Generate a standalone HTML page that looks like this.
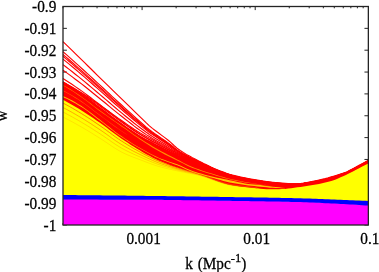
<!DOCTYPE html>
<html><head><meta charset="utf-8"><title>w vs k</title>
<style>
html,body{margin:0;padding:0;background:#fff;}
svg{display:block;position:absolute;left:0;top:0;}
text{font-family:"Liberation Serif",serif;font-size:15.3px;fill:#000;stroke:#000;stroke-width:0.25px;}
</style></head>
<body>
<svg width="379" height="272" viewBox="0 0 379 272">
<rect width="379" height="272" fill="#fff"/>
<path d="M63.0,6.50h3.9 M368.35,6.50h-3.9 M63.0,28.35h3.9 M368.35,28.35h-3.9 M63.0,50.20h3.9 M368.35,50.20h-3.9 M63.0,72.05h3.9 M368.35,72.05h-3.9 M63.0,93.90h3.9 M368.35,93.90h-3.9 M63.0,115.75h3.9 M368.35,115.75h-3.9 M63.0,137.60h3.9 M368.35,137.60h-3.9 M63.0,159.45h3.9 M368.35,159.45h-3.9 M63.0,181.30h3.9 M368.35,181.30h-3.9 M63.0,203.15h3.9 M368.35,203.15h-3.9 M63.0,225.00h3.9 M368.35,225.00h-3.9 M63.00,6.5v1.8 M63.00,225.0v-1.8 M82.92,6.5v1.8 M82.92,225.0v-1.8 M97.06,6.5v1.8 M97.06,225.0v-1.8 M108.02,6.5v1.8 M108.02,225.0v-1.8 M116.98,6.5v1.8 M116.98,225.0v-1.8 M124.55,6.5v1.8 M124.55,225.0v-1.8 M131.11,6.5v1.8 M131.11,225.0v-1.8 M136.90,6.5v1.8 M136.90,225.0v-1.8 M142.08,6.5v3.6 M142.08,225.0v-3.6 M176.14,6.5v1.8 M176.14,225.0v-1.8 M196.06,6.5v1.8 M196.06,225.0v-1.8 M210.19,6.5v1.8 M210.19,225.0v-1.8 M221.16,6.5v1.8 M221.16,225.0v-1.8 M230.12,6.5v1.8 M230.12,225.0v-1.8 M237.69,6.5v1.8 M237.69,225.0v-1.8 M244.25,6.5v1.8 M244.25,225.0v-1.8 M250.04,6.5v1.8 M250.04,225.0v-1.8 M255.21,6.5v3.6 M255.21,225.0v-3.6 M289.27,6.5v1.8 M289.27,225.0v-1.8 M309.19,6.5v1.8 M309.19,225.0v-1.8 M323.33,6.5v1.8 M323.33,225.0v-1.8 M334.29,6.5v1.8 M334.29,225.0v-1.8 M343.25,6.5v1.8 M343.25,225.0v-1.8 M350.83,6.5v1.8 M350.83,225.0v-1.8 M357.39,6.5v1.8 M357.39,225.0v-1.8 M363.17,6.5v1.8 M363.17,225.0v-1.8" stroke="#242424" stroke-width="1" fill="none"/>
<g>
<polygon fill="#ff00ff" fill-opacity="1" points="63.0,199.10 66.1,199.10 69.2,199.10 72.3,199.10 75.3,199.10 78.4,199.10 81.5,199.11 84.6,199.11 87.7,199.11 90.8,199.11 93.8,199.12 96.9,199.12 100.0,199.13 103.1,199.13 106.2,199.13 109.3,199.14 112.3,199.14 115.4,199.15 118.5,199.15 121.6,199.16 124.7,199.17 127.8,199.17 130.9,199.18 133.9,199.19 137.0,199.19 140.1,199.20 143.2,199.21 146.3,199.22 149.4,199.24 152.4,199.26 155.5,199.29 158.6,199.31 161.7,199.35 164.8,199.38 167.9,199.41 171.0,199.45 174.0,199.49 177.1,199.54 180.2,199.58 183.3,199.63 186.4,199.67 189.5,199.72 192.5,199.77 195.6,199.82 198.7,199.87 201.8,199.92 204.9,199.97 208.0,200.02 211.0,200.06 214.1,200.11 217.2,200.16 220.3,200.20 223.4,200.25 226.5,200.29 229.6,200.34 232.6,200.38 235.7,200.42 238.8,200.47 241.9,200.51 245.0,200.55 248.1,200.60 251.1,200.64 254.2,200.69 257.3,200.74 260.4,200.79 263.5,200.84 266.6,200.89 269.7,200.94 272.7,201.00 275.8,201.06 278.9,201.12 282.0,201.18 285.1,201.24 288.2,201.31 291.2,201.38 294.3,201.46 297.4,201.53 300.5,201.61 303.6,201.70 306.7,201.81 309.7,201.92 312.8,202.05 315.9,202.18 319.0,202.33 322.1,202.47 325.2,202.63 328.3,202.79 331.3,202.95 334.4,203.11 337.5,203.27 340.6,203.43 343.7,203.59 346.5,203.75 346.8,203.77 349.8,203.94 352.9,204.12 356.0,204.31 359.1,204.50 362.2,204.70 365.3,204.89 368.4,205.10 368.4,225.00 365.3,225.00 362.2,225.00 359.1,225.00 356.0,225.00 352.9,225.00 349.8,225.00 346.8,225.00 346.5,225.00 343.7,225.00 340.6,225.00 337.5,225.00 334.4,225.00 331.3,225.00 328.3,225.00 325.2,225.00 322.1,225.00 319.0,225.00 315.9,225.00 312.8,225.00 309.7,225.00 306.7,225.00 303.6,225.00 300.5,225.00 297.4,225.00 294.3,225.00 291.2,225.00 288.2,225.00 285.1,225.00 282.0,225.00 278.9,225.00 275.8,225.00 272.7,225.00 269.7,225.00 266.6,225.00 263.5,225.00 260.4,225.00 257.3,225.00 254.2,225.00 251.1,225.00 248.1,225.00 245.0,225.00 241.9,225.00 238.8,225.00 235.7,225.00 232.6,225.00 229.6,225.00 226.5,225.00 223.4,225.00 220.3,225.00 217.2,225.00 214.1,225.00 211.0,225.00 208.0,225.00 204.9,225.00 201.8,225.00 198.7,225.00 195.6,225.00 192.5,225.00 189.5,225.00 186.4,225.00 183.3,225.00 180.2,225.00 177.1,225.00 174.0,225.00 171.0,225.00 167.9,225.00 164.8,225.00 161.7,225.00 158.6,225.00 155.5,225.00 152.4,225.00 149.4,225.00 146.3,225.00 143.2,225.00 140.1,225.00 137.0,225.00 133.9,225.00 130.9,225.00 127.8,225.00 124.7,225.00 121.6,225.00 118.5,225.00 115.4,225.00 112.3,225.00 109.3,225.00 106.2,225.00 103.1,225.00 100.0,225.00 96.9,225.00 93.8,225.00 90.8,225.00 87.7,225.00 84.6,225.00 81.5,225.00 78.4,225.00 75.3,225.00 72.3,225.00 69.2,225.00 66.1,225.00 63.0,225.00"/>
<polygon fill="#ffff00" fill-opacity="1" points="63.0,98.00 66.1,99.68 69.2,101.40 72.3,103.16 75.3,104.98 78.4,106.83 81.5,108.74 84.6,110.69 87.7,112.70 90.8,114.75 93.8,116.84 96.9,118.96 100.0,121.11 103.1,123.31 106.2,125.59 109.3,127.92 112.3,130.24 115.4,132.54 118.5,134.76 121.6,136.90 124.7,139.01 127.8,141.09 130.9,143.13 133.9,145.12 137.0,147.03 140.1,148.86 143.2,150.64 146.3,152.38 149.4,154.07 152.4,155.69 155.5,157.23 158.6,158.68 161.7,160.03 164.8,161.30 167.9,162.51 171.0,163.66 174.0,164.76 177.1,165.83 180.2,166.87 183.3,167.86 186.4,168.79 189.5,169.69 192.5,170.57 195.6,171.47 198.7,172.40 201.8,173.39 204.9,174.48 208.0,175.64 211.0,176.84 214.1,178.04 217.2,179.22 220.3,180.34 223.4,181.36 226.5,182.27 229.6,183.01 232.6,183.59 235.7,184.08 238.8,184.52 241.9,184.91 245.0,185.27 248.1,185.60 251.1,185.92 254.2,186.27 257.3,186.62 260.4,186.95 263.5,187.22 266.6,187.42 269.7,187.50 272.7,187.49 275.8,187.46 278.9,187.40 282.0,187.33 285.1,187.19 288.2,186.85 291.2,186.42 294.3,186.00 297.4,185.61 300.5,185.20 303.6,184.77 306.7,184.32 309.7,183.83 312.8,183.31 315.9,182.75 319.0,182.15 322.1,181.50 325.2,180.80 328.3,180.01 331.3,179.14 334.4,178.16 337.5,176.97 340.6,175.62 343.7,174.22 346.5,173.00 346.8,172.87 349.8,171.26 352.9,169.65 356.0,168.05 359.1,166.44 362.2,164.84 365.3,163.23 368.4,161.63 368.4,201.50 365.3,201.36 362.2,201.23 359.1,201.09 356.0,200.96 352.9,200.83 349.8,200.70 346.8,200.57 346.5,200.56 343.7,200.45 340.6,200.32 337.5,200.20 334.4,200.07 331.3,199.94 328.3,199.81 325.2,199.69 322.1,199.56 319.0,199.44 315.9,199.31 312.8,199.20 309.7,199.09 306.7,198.99 303.6,198.90 300.5,198.81 297.4,198.74 294.3,198.66 291.2,198.59 288.2,198.53 285.1,198.46 282.0,198.40 278.9,198.34 275.8,198.28 272.7,198.22 269.7,198.17 266.6,198.11 263.5,198.06 260.4,198.01 257.3,197.96 254.2,197.91 251.1,197.87 248.1,197.82 245.0,197.77 241.9,197.73 238.8,197.68 235.7,197.64 232.6,197.59 229.6,197.54 226.5,197.50 223.4,197.45 220.3,197.40 217.2,197.36 214.1,197.31 211.0,197.26 208.0,197.22 204.9,197.17 201.8,197.13 198.7,197.08 195.6,197.04 192.5,196.99 189.5,196.95 186.4,196.90 183.3,196.86 180.2,196.82 177.1,196.77 174.0,196.73 171.0,196.69 167.9,196.65 164.8,196.61 161.7,196.57 158.6,196.53 155.5,196.49 152.4,196.45 149.4,196.41 146.3,196.38 143.2,196.34 140.1,196.30 137.0,196.26 133.9,196.23 130.9,196.19 127.8,196.16 124.7,196.12 121.6,196.09 118.5,196.05 115.4,196.02 112.3,195.99 109.3,195.95 106.2,195.92 103.1,195.89 100.0,195.85 96.9,195.82 93.8,195.79 90.8,195.76 87.7,195.73 84.6,195.70 81.5,195.67 78.4,195.64 75.3,195.61 72.3,195.58 69.2,195.55 66.1,195.53 63.0,195.50"/>
<polygon fill="#0000ff" fill-opacity="1" points="63.0,195.00 66.1,195.03 69.2,195.05 72.3,195.08 75.3,195.11 78.4,195.14 81.5,195.17 84.6,195.20 87.7,195.23 90.8,195.26 93.8,195.29 96.9,195.32 100.0,195.35 103.1,195.39 106.2,195.42 109.3,195.45 112.3,195.49 115.4,195.52 118.5,195.55 121.6,195.59 124.7,195.62 127.8,195.66 130.9,195.69 133.9,195.73 137.0,195.76 140.1,195.80 143.2,195.84 146.3,195.88 149.4,195.91 152.4,195.95 155.5,195.99 158.6,196.03 161.7,196.07 164.8,196.11 167.9,196.15 171.0,196.19 174.0,196.23 177.1,196.27 180.2,196.32 183.3,196.36 186.4,196.40 189.5,196.45 192.5,196.49 195.6,196.54 198.7,196.58 201.8,196.63 204.9,196.67 208.0,196.72 211.0,196.76 214.1,196.81 217.2,196.86 220.3,196.90 223.4,196.95 226.5,197.00 229.6,197.04 232.6,197.09 235.7,197.14 238.8,197.18 241.9,197.23 245.0,197.27 248.1,197.32 251.1,197.37 254.2,197.41 257.3,197.46 260.4,197.51 263.5,197.56 266.6,197.61 269.7,197.67 272.7,197.72 275.8,197.78 278.9,197.84 282.0,197.90 285.1,197.96 288.2,198.03 291.2,198.09 294.3,198.16 297.4,198.24 300.5,198.31 303.6,198.40 306.7,198.49 309.7,198.59 312.8,198.70 315.9,198.81 319.0,198.94 322.1,199.06 325.2,199.19 328.3,199.31 331.3,199.44 334.4,199.57 337.5,199.70 340.6,199.82 343.7,199.95 346.5,200.06 346.8,200.07 349.8,200.20 352.9,200.33 356.0,200.46 359.1,200.59 362.2,200.73 365.3,200.86 368.4,201.00 368.4,205.60 365.3,205.39 362.2,205.20 359.1,205.00 356.0,204.81 352.9,204.62 349.8,204.44 346.8,204.27 346.5,204.25 343.7,204.09 340.6,203.93 337.5,203.77 334.4,203.61 331.3,203.45 328.3,203.29 325.2,203.13 322.1,202.97 319.0,202.83 315.9,202.68 312.8,202.55 309.7,202.42 306.7,202.31 303.6,202.20 300.5,202.11 297.4,202.03 294.3,201.96 291.2,201.88 288.2,201.81 285.1,201.74 282.0,201.68 278.9,201.62 275.8,201.56 272.7,201.50 269.7,201.44 266.6,201.39 263.5,201.34 260.4,201.29 257.3,201.24 254.2,201.19 251.1,201.14 248.1,201.10 245.0,201.05 241.9,201.01 238.8,200.97 235.7,200.92 232.6,200.88 229.6,200.84 226.5,200.79 223.4,200.75 220.3,200.70 217.2,200.66 214.1,200.61 211.0,200.56 208.0,200.52 204.9,200.47 201.8,200.42 198.7,200.37 195.6,200.32 192.5,200.27 189.5,200.22 186.4,200.17 183.3,200.13 180.2,200.08 177.1,200.04 174.0,199.99 171.0,199.95 167.9,199.91 164.8,199.88 161.7,199.85 158.6,199.81 155.5,199.79 152.4,199.76 149.4,199.74 146.3,199.72 143.2,199.71 140.1,199.70 137.0,199.69 133.9,199.69 130.9,199.68 127.8,199.67 124.7,199.67 121.6,199.66 118.5,199.65 115.4,199.65 112.3,199.64 109.3,199.64 106.2,199.63 103.1,199.63 100.0,199.63 96.9,199.62 93.8,199.62 90.8,199.61 87.7,199.61 84.6,199.61 81.5,199.61 78.4,199.60 75.3,199.60 72.3,199.60 69.2,199.60 66.1,199.60 63.0,199.60"/>
<polygon fill="#ff0000" fill-opacity="1" points="63.0,81.60 66.1,83.46 69.2,85.36 72.3,87.31 75.3,89.30 78.4,91.34 81.5,93.43 84.6,95.58 87.7,97.80 90.8,100.05 93.8,102.34 96.9,104.63 100.0,106.91 103.1,109.21 106.2,111.55 109.3,113.91 112.3,116.25 115.4,118.57 118.5,120.84 121.6,123.04 124.7,125.23 127.8,127.40 130.9,129.54 133.9,131.60 137.0,133.59 140.1,135.46 143.2,137.23 146.3,138.91 149.4,140.52 152.4,142.09 155.5,143.64 158.6,145.19 161.7,146.78 164.8,148.38 167.9,149.99 171.0,151.58 174.0,153.12 177.1,154.60 180.2,155.99 183.3,157.28 186.4,158.49 189.5,159.66 192.5,160.80 195.6,161.94 198.7,163.10 201.8,164.32 204.9,165.61 208.0,166.95 211.0,168.31 214.1,169.68 217.2,171.02 220.3,172.30 223.4,173.51 226.5,174.62 229.6,175.59 232.6,176.43 235.7,177.19 238.8,177.90 241.9,178.54 245.0,179.13 248.1,179.68 251.1,180.18 254.2,180.65 257.3,181.09 260.4,181.50 263.5,181.88 266.6,182.23 269.7,182.56 272.7,182.90 275.8,183.25 278.9,183.59 282.0,183.90 285.1,184.14 288.2,184.28 291.2,184.29 294.3,184.20 297.4,184.02 300.5,183.76 303.6,183.44 306.7,183.05 309.7,182.62 312.8,182.16 315.9,181.67 319.0,181.16 322.1,180.62 325.2,179.95 328.3,179.15 331.3,178.24 334.4,177.23 337.5,176.15 340.6,175.01 343.7,173.82 346.5,172.70 346.8,172.60 349.8,171.28 352.9,169.84 356.0,168.27 359.1,166.59 362.2,164.81 365.3,162.96 368.4,161.03 368.4,163.38 365.3,164.98 362.2,166.59 359.1,168.19 356.0,169.80 352.9,171.40 349.8,173.01 346.8,174.62 346.5,174.75 343.7,175.97 340.6,177.37 337.5,178.72 334.4,179.91 331.3,180.89 328.3,181.76 325.2,182.55 322.1,183.25 319.0,183.90 315.9,184.50 312.8,185.06 309.7,185.58 306.7,186.07 303.6,186.52 300.5,186.95 297.4,187.36 294.3,187.75 291.2,188.17 288.2,188.60 285.1,188.94 282.0,189.08 278.9,189.15 275.8,189.21 272.7,189.24 269.7,189.25 266.6,189.17 263.5,188.97 260.4,188.70 257.3,188.37 254.2,188.02 251.1,187.67 248.1,187.35 245.0,187.02 241.9,186.66 238.8,186.27 235.7,185.83 232.6,185.34 229.6,184.76 226.5,184.02 223.4,183.11 220.3,182.09 217.2,180.97 214.1,179.79 211.0,178.59 208.0,177.39 204.9,176.23 201.8,175.14 198.7,174.15 195.6,173.22 192.5,172.32 189.5,171.44 186.4,170.54 183.3,169.61 180.2,168.62 177.1,167.58 174.0,166.51 171.0,165.41 167.9,164.26 164.8,163.05 161.7,161.78 158.6,160.43 155.5,158.98 152.4,157.44 149.4,155.82 146.3,154.13 143.2,152.39 140.1,150.61 137.0,148.78 133.9,146.87 130.9,144.88 127.8,142.84 124.7,140.76 121.6,138.65 118.5,136.51 115.4,134.29 112.3,131.99 109.3,129.67 106.2,127.34 103.1,125.06 100.0,122.86 96.9,120.71 93.8,118.59 90.8,116.50 87.7,114.45 84.6,112.44 81.5,110.49 78.4,108.58 75.3,106.73 72.3,104.91 69.2,103.15 66.1,101.43 63.0,99.75"/>
<path d="M63.0,41.60 L66.1,44.61 L69.2,47.62 L72.3,50.63 L75.3,53.64 L78.4,56.66 L81.5,59.67 L84.6,62.70 L87.7,65.72 L90.8,68.75 L93.8,71.77 L96.9,74.79 L100.0,77.81 L103.1,80.83 L106.2,83.84 L109.3,86.85 L112.3,89.85 L115.4,92.86 L118.5,95.86 L121.6,98.86 L124.7,101.85 L127.8,104.85 L130.9,107.84 L133.9,110.82 L137.0,113.81 L140.1,116.81 L143.2,119.87 L146.3,122.95 L149.4,125.84 L152.4,128.41 L155.5,130.78 L158.6,133.06 L161.7,135.36 L164.8,137.61 L167.9,140.00 L171.0,142.69 L174.0,145.50 L177.1,148.20 L180.2,150.54 L183.3,152.55 L186.4,154.39 L189.5,156.10 L192.5,157.74 L195.6,159.33 L198.7,160.92 L201.8,162.55 L204.9,164.14 L208.0,165.64 L211.0,167.06 L214.1,168.42 L217.2,169.70 L220.3,170.92 L223.4,172.08 L226.5,173.18 L229.6,174.18 L232.6,175.05 L235.7,175.85 L238.8,176.59 L241.9,177.28 L245.0,177.93 L248.1,178.54 L251.1,179.11 L254.2,179.66 L257.3,180.18 L260.4,180.68 L263.5,181.14 L266.6,181.57 L269.7,181.96 L272.7,182.32 L275.8,182.64 L278.9,182.92 L282.0,183.15 L285.1,183.38 L288.2,183.59 L291.2,183.74 L294.3,183.80 L297.4,183.70 L300.5,183.48 L303.6,183.15 L306.7,182.59 L309.7,182.01 L312.8,181.42 L315.9,180.79 L319.0,180.13 L322.1,179.42 L325.2,178.65 L328.3,177.80 L331.3,176.90 L334.4,175.97 L337.5,175.01 L340.6,174.02 L343.7,173.01 L346.5,172.10 L346.8,171.98 L349.8,170.30 L352.9,168.64 L356.0,166.97 L359.1,165.31 L362.2,163.65 L365.3,161.99 L368.4,160.33" stroke="#ff0000" stroke-width="1.15" fill="none"/>
<path d="M63.0,51.70 L66.1,54.42 L69.2,57.15 L72.3,59.90 L75.3,62.66 L78.4,65.43 L81.5,68.22 L84.6,71.03 L87.7,73.85 L90.8,76.68 L93.8,79.52 L96.9,82.36 L100.0,85.20 L103.1,88.04 L106.2,90.88 L109.3,93.73 L112.3,96.57 L115.4,99.40 L118.5,102.22 L121.6,105.02 L124.7,107.82 L127.8,110.61 L130.9,113.38 L133.9,116.14 L137.0,118.88 L140.1,121.60 L143.2,124.34 L146.3,127.07 L149.4,129.64 L152.4,131.96 L155.5,134.13 L158.6,136.23 L161.7,138.35 L164.8,140.44 L167.9,142.64 L171.0,145.05 L174.0,147.55 L177.1,149.94 L180.2,152.05 L183.3,153.87 L186.4,155.56 L189.5,157.14 L192.5,158.65 L195.6,160.13 L198.7,161.61 L201.8,163.14 L204.9,164.65 L208.0,166.12 L211.0,167.52 L214.1,168.88 L217.2,170.18 L220.3,171.41 L223.4,172.58 L226.5,173.69 L229.6,174.68 L232.6,175.54 L235.7,176.33 L238.8,177.06 L241.9,177.74 L245.0,178.38 L248.1,178.97 L251.1,179.53 L254.2,180.05 L257.3,180.56 L260.4,181.03 L263.5,181.47 L266.6,181.88 L269.7,182.26 L272.7,182.61 L275.8,182.94 L278.9,183.23 L282.0,183.49 L285.1,183.72 L288.2,183.91 L291.2,184.03 L294.3,184.05 L297.4,183.93 L300.5,183.70 L303.6,183.37 L306.7,182.86 L309.7,182.31 L312.8,181.75 L315.9,181.16 L319.0,180.53 L322.1,179.87 L325.2,179.12 L328.3,178.28 L331.3,177.38 L334.4,176.44 L337.5,175.44 L340.6,174.41 L343.7,173.36 L346.5,172.40 L346.8,172.28 L349.8,170.69 L352.9,169.08 L356.0,167.44 L359.1,165.78 L362.2,164.09 L365.3,162.38 L368.4,160.65" stroke="#ff0000" stroke-width="1.15" fill="none"/>
<path d="M63.0,54.50 L66.1,57.14 L69.2,59.80 L72.3,62.47 L75.3,65.16 L78.4,67.87 L81.5,70.59 L84.6,73.34 L87.7,76.10 L90.8,78.88 L93.8,81.67 L96.9,84.46 L100.0,87.25 L103.1,90.03 L106.2,92.83 L109.3,95.63 L112.3,98.43 L115.4,101.22 L118.5,103.99 L121.6,106.73 L124.7,109.47 L127.8,112.20 L130.9,114.92 L133.9,117.62 L137.0,120.29 L140.1,122.92 L143.2,125.58 L146.3,128.21 L149.4,130.70 L152.4,132.95 L155.5,135.05 L158.6,137.11 L161.7,139.18 L164.8,141.22 L167.9,143.37 L171.0,145.71 L174.0,148.12 L177.1,150.43 L180.2,152.46 L183.3,154.24 L186.4,155.88 L189.5,157.42 L192.5,158.90 L195.6,160.35 L198.7,161.81 L201.8,163.30 L204.9,164.79 L208.0,166.25 L211.0,167.65 L214.1,169.01 L217.2,170.31 L220.3,171.55 L223.4,172.72 L226.5,173.83 L229.6,174.82 L232.6,175.68 L235.7,176.46 L238.8,177.19 L241.9,177.87 L245.0,178.50 L248.1,179.09 L251.1,179.64 L254.2,180.16 L257.3,180.66 L260.4,181.13 L263.5,181.56 L266.6,181.97 L269.7,182.34 L272.7,182.69 L275.8,183.02 L278.9,183.32 L282.0,183.58 L285.1,183.81 L288.2,184.00 L291.2,184.11 L294.3,184.12 L297.4,184.00 L300.5,183.76 L303.6,183.43 L306.7,182.93 L309.7,182.39 L312.8,181.84 L315.9,181.26 L319.0,180.65 L322.1,179.99 L325.2,179.25 L328.3,178.42 L331.3,177.51 L334.4,176.56 L337.5,175.56 L340.6,174.52 L343.7,173.46 L346.5,172.48 L346.8,172.37 L349.8,170.80 L352.9,169.21 L356.0,167.58 L359.1,165.91 L362.2,164.21 L365.3,162.49 L368.4,160.74" stroke="#ff0000" stroke-width="1.15" fill="none"/>
<path d="M63.0,56.30 L66.1,58.89 L69.2,61.50 L72.3,64.13 L75.3,66.77 L78.4,69.43 L81.5,72.11 L84.6,74.82 L87.7,77.55 L90.8,80.30 L93.8,83.06 L96.9,85.81 L100.0,88.56 L103.1,91.32 L106.2,94.09 L109.3,96.86 L112.3,99.63 L115.4,102.38 L118.5,105.12 L121.6,107.83 L124.7,110.54 L127.8,113.23 L130.9,115.91 L133.9,118.57 L137.0,121.19 L140.1,123.78 L143.2,126.38 L146.3,128.95 L149.4,131.37 L152.4,133.58 L155.5,135.65 L158.6,137.67 L161.7,139.71 L164.8,141.73 L167.9,143.84 L171.0,146.13 L174.0,148.48 L177.1,150.74 L180.2,152.73 L183.3,154.48 L186.4,156.09 L189.5,157.61 L192.5,159.06 L195.6,160.49 L198.7,161.93 L201.8,163.40 L204.9,164.89 L208.0,166.33 L211.0,167.73 L214.1,169.09 L217.2,170.40 L220.3,171.63 L223.4,172.81 L226.5,173.92 L229.6,174.91 L232.6,175.77 L235.7,176.55 L238.8,177.28 L241.9,177.95 L245.0,178.58 L248.1,179.17 L251.1,179.72 L254.2,180.23 L257.3,180.73 L260.4,181.19 L263.5,181.62 L266.6,182.03 L269.7,182.39 L272.7,182.74 L275.8,183.08 L278.9,183.38 L282.0,183.64 L285.1,183.87 L288.2,184.06 L291.2,184.16 L294.3,184.16 L297.4,184.04 L300.5,183.80 L303.6,183.47 L306.7,182.98 L309.7,182.45 L312.8,181.90 L315.9,181.33 L319.0,180.72 L322.1,180.07 L325.2,179.34 L328.3,178.50 L331.3,177.60 L334.4,176.65 L337.5,175.64 L340.6,174.59 L343.7,173.52 L346.5,172.53 L346.8,172.42 L349.8,170.87 L352.9,169.29 L356.0,167.66 L359.1,165.99 L362.2,164.29 L365.3,162.56 L368.4,160.80" stroke="#ff0000" stroke-width="1.15" fill="none"/>
<path d="M63.0,59.10 L66.1,61.61 L69.2,64.14 L72.3,66.70 L75.3,69.27 L78.4,71.86 L81.5,74.48 L84.6,77.13 L87.7,79.81 L90.8,82.50 L93.8,85.20 L96.9,87.91 L100.0,90.61 L103.1,93.32 L106.2,96.04 L109.3,98.77 L112.3,101.49 L115.4,104.20 L118.5,106.88 L121.6,109.54 L124.7,112.19 L127.8,114.83 L130.9,117.45 L133.9,120.04 L137.0,122.60 L140.1,125.11 L143.2,127.61 L146.3,130.09 L149.4,132.43 L152.4,134.57 L155.5,136.58 L158.6,138.55 L161.7,140.54 L164.8,142.51 L167.9,144.57 L171.0,146.78 L174.0,149.05 L177.1,151.22 L180.2,153.15 L183.3,154.84 L186.4,156.42 L189.5,157.89 L192.5,159.31 L195.6,160.71 L198.7,162.12 L201.8,163.57 L204.9,165.03 L208.0,166.46 L211.0,167.86 L214.1,169.22 L217.2,170.53 L220.3,171.77 L223.4,172.95 L226.5,174.06 L229.6,175.05 L232.6,175.90 L235.7,176.69 L238.8,177.41 L241.9,178.08 L245.0,178.71 L248.1,179.29 L251.1,179.83 L254.2,180.34 L257.3,180.83 L260.4,181.29 L263.5,181.72 L266.6,182.11 L269.7,182.48 L272.7,182.82 L275.8,183.16 L278.9,183.47 L282.0,183.73 L285.1,183.97 L288.2,184.15 L291.2,184.24 L294.3,184.23 L297.4,184.10 L300.5,183.86 L303.6,183.53 L306.7,183.05 L309.7,182.53 L312.8,181.99 L315.9,181.43 L319.0,180.83 L322.1,180.20 L325.2,179.47 L328.3,178.64 L331.3,177.73 L334.4,176.77 L337.5,175.76 L340.6,174.70 L343.7,173.62 L346.5,172.62 L346.8,172.50 L349.8,170.98 L352.9,169.41 L356.0,167.79 L359.1,166.12 L362.2,164.41 L365.3,162.66 L368.4,160.89" stroke="#ff0000" stroke-width="1.15" fill="none"/>
<path d="M63.0,64.60 L66.1,66.96 L69.2,69.34 L72.3,71.75 L75.3,74.18 L78.4,76.64 L81.5,79.14 L84.6,81.67 L87.7,84.23 L90.8,86.82 L93.8,89.43 L96.9,92.03 L100.0,94.64 L103.1,97.25 L106.2,99.88 L109.3,102.52 L112.3,105.15 L115.4,107.76 L118.5,110.35 L121.6,112.90 L124.7,115.44 L127.8,117.97 L130.9,120.47 L133.9,122.94 L137.0,125.36 L140.1,127.72 L143.2,130.05 L146.3,132.33 L149.4,134.50 L152.4,136.50 L155.5,138.40 L158.6,140.28 L161.7,142.17 L164.8,144.05 L167.9,146.00 L171.0,148.07 L174.0,150.16 L177.1,152.17 L180.2,153.97 L183.3,155.57 L186.4,157.05 L189.5,158.46 L192.5,159.81 L195.6,161.15 L198.7,162.50 L201.8,163.89 L204.9,165.31 L208.0,166.72 L211.0,168.11 L214.1,169.47 L217.2,170.79 L220.3,172.04 L223.4,173.23 L226.5,174.33 L229.6,175.32 L232.6,176.17 L235.7,176.95 L238.8,177.67 L241.9,178.33 L245.0,178.95 L248.1,179.52 L251.1,180.06 L254.2,180.56 L257.3,181.04 L260.4,181.48 L263.5,181.90 L266.6,182.28 L269.7,182.64 L272.7,182.98 L275.8,183.32 L278.9,183.64 L282.0,183.91 L285.1,184.15 L288.2,184.32 L291.2,184.39 L294.3,184.37 L297.4,184.22 L300.5,183.98 L303.6,183.65 L306.7,183.19 L309.7,182.70 L312.8,182.18 L315.9,181.63 L319.0,181.05 L322.1,180.44 L325.2,179.73 L328.3,178.90 L331.3,178.00 L334.4,177.03 L337.5,176.00 L340.6,174.92 L343.7,173.81 L346.5,172.78 L346.8,172.67 L349.8,171.20 L352.9,169.66 L356.0,168.05 L359.1,166.37 L362.2,164.65 L365.3,162.88 L368.4,161.07" stroke="#ff0000" stroke-width="1.15" fill="none"/>
<path d="M63.0,70.20 L66.1,72.40 L69.2,74.63 L72.3,76.89 L75.3,79.18 L78.4,81.51 L81.5,83.87 L84.6,86.29 L87.7,88.74 L90.8,91.22 L93.8,93.72 L96.9,96.23 L100.0,98.73 L103.1,101.24 L106.2,103.78 L109.3,106.33 L112.3,108.87 L115.4,111.39 L118.5,113.88 L121.6,116.32 L124.7,118.74 L127.8,121.16 L130.9,123.54 L133.9,125.88 L137.0,128.17 L140.1,130.37 L143.2,132.52 L146.3,134.61 L149.4,136.60 L152.4,138.47 L155.5,140.26 L158.6,142.03 L161.7,143.82 L164.8,145.62 L167.9,147.46 L171.0,149.37 L174.0,151.29 L177.1,153.13 L180.2,154.80 L183.3,156.30 L186.4,157.70 L189.5,159.03 L192.5,160.31 L195.6,161.59 L198.7,162.88 L201.8,164.22 L204.9,165.60 L208.0,166.99 L211.0,168.37 L214.1,169.73 L217.2,171.05 L220.3,172.31 L223.4,173.51 L226.5,174.61 L229.6,175.60 L232.6,176.45 L235.7,177.22 L238.8,177.93 L241.9,178.59 L245.0,179.20 L248.1,179.76 L251.1,180.29 L254.2,180.78 L257.3,181.24 L260.4,181.68 L263.5,182.08 L266.6,182.46 L269.7,182.81 L272.7,183.15 L275.8,183.49 L278.9,183.82 L282.0,184.10 L285.1,184.34 L288.2,184.50 L291.2,184.55 L294.3,184.51 L297.4,184.35 L300.5,184.10 L303.6,183.77 L306.7,183.34 L309.7,182.86 L312.8,182.36 L315.9,181.83 L319.0,181.28 L322.1,180.69 L325.2,179.99 L328.3,179.17 L331.3,178.26 L334.4,177.28 L337.5,176.24 L340.6,175.14 L343.7,174.00 L346.5,172.95 L346.8,172.84 L349.8,171.41 L352.9,169.90 L356.0,168.31 L359.1,166.63 L362.2,164.89 L365.3,163.09 L368.4,161.25" stroke="#ff0000" stroke-width="1.15" fill="none"/>
<path d="M63.0,78.50 L66.1,80.46 L69.2,82.46 L72.3,84.51 L75.3,86.60 L78.4,88.72 L81.5,90.90 L84.6,93.13 L87.7,95.42 L90.8,97.75 L93.8,100.10 L96.9,102.45 L100.0,104.80 L103.1,107.17 L106.2,109.57 L109.3,111.99 L112.3,114.39 L115.4,116.77 L118.5,119.11 L121.6,121.38 L124.7,123.65 L127.8,125.89 L130.9,128.10 L133.9,130.26 L137.0,132.33 L140.1,134.31 L143.2,136.19 L146.3,138.00 L149.4,139.73 L152.4,141.39 L155.5,143.01 L158.6,144.63 L161.7,146.28 L164.8,147.95 L167.9,149.63 L171.0,151.31 L174.0,152.98 L177.1,154.56 L180.2,156.04 L183.3,157.39 L186.4,158.66 L189.5,159.88 L192.5,161.06 L195.6,162.24 L198.7,163.45 L201.8,164.70 L204.9,166.02 L208.0,167.37 L211.0,168.74 L214.1,170.11 L217.2,171.44 L220.3,172.72 L223.4,173.92 L226.5,175.03 L229.6,176.01 L232.6,176.85 L235.7,177.62 L238.8,178.32 L241.9,178.97 L245.0,179.57 L248.1,180.12 L251.1,180.63 L254.2,181.11 L257.3,181.55 L260.4,181.97 L263.5,182.36 L266.6,182.72 L269.7,183.05 L272.7,183.39 L275.8,183.74 L278.9,184.08 L282.0,184.38 L285.1,184.61 L288.2,184.76 L291.2,184.79 L294.3,184.71 L297.4,184.54 L300.5,184.28 L303.6,183.96 L306.7,183.56 L309.7,183.11 L312.8,182.64 L315.9,182.13 L319.0,181.62 L322.1,181.06 L325.2,180.38 L328.3,179.57 L331.3,178.66 L334.4,177.66 L337.5,176.59 L340.6,175.46 L343.7,174.29 L346.5,173.19 L346.8,173.09 L349.8,171.74 L352.9,170.27 L356.0,168.69 L359.1,167.02 L362.2,165.25 L365.3,163.41 L368.4,161.51" stroke="#ff0000" stroke-width="1.15" fill="none"/>
<path d="M63.0,82.10 L66.1,83.85 L69.2,85.65 L72.3,87.49 L75.3,89.38 L78.4,91.33 L81.5,93.32 L84.6,95.39 L87.7,97.51 L90.8,99.68 L93.8,101.87 L96.9,104.08 L100.0,106.29 L103.1,108.52 L106.2,110.78 L109.3,113.06 L112.3,115.34 L115.4,117.60 L118.5,119.83 L121.6,122.01 L124.7,124.18 L127.8,126.34 L130.9,128.46 L133.9,130.51 L137.0,132.49 L140.1,134.36 L143.2,136.14 L146.3,137.86 L149.4,139.52 L152.4,141.15 L155.5,142.77 L158.6,144.39 L161.7,146.03 L164.8,147.71 L167.9,149.39 L171.0,151.06 L174.0,152.68 L177.1,154.24 L180.2,155.69 L183.3,157.05 L186.4,158.33 L189.5,159.56 L192.5,160.76 L195.6,161.96 L198.7,163.18 L201.8,164.45 L204.9,165.79 L208.0,167.18 L211.0,168.60 L214.1,170.02 L217.2,171.40 L220.3,172.73 L223.4,173.97 L226.5,175.10 L229.6,176.09" stroke="#ff0000" stroke-width="1.1" fill="none"/>
<path d="M63.0,82.10 L66.1,83.75 L69.2,85.45 L72.3,87.20 L75.3,89.00 L78.4,90.85 L81.5,92.75 L84.6,94.73 L87.7,96.77 L90.8,98.85 L93.8,100.97 L96.9,103.10 L100.0,105.24 L103.1,107.40 L106.2,109.59 L109.3,111.80 L112.3,114.02 L115.4,116.23 L118.5,118.42 L121.6,120.57 L124.7,122.73 L127.8,124.87 L130.9,126.97 L133.9,129.02 L137.0,130.99 L140.1,132.86 L143.2,134.66 L146.3,136.40 L149.4,138.11 L152.4,139.80 L155.5,141.48 L158.6,143.16 L161.7,144.86 L164.8,146.60 L167.9,148.36 L171.0,150.10 L174.0,151.80 L177.1,153.42 L180.2,154.95 L183.3,156.37 L186.4,157.71 L189.5,159.00 L192.5,160.26 L195.6,161.51 L198.7,162.78 L201.8,164.10 L204.9,165.49 L208.0,166.94 L211.0,168.40 L214.1,169.87 L217.2,171.30 L220.3,172.66 L223.4,173.94 L226.5,175.09 L229.6,176.09" stroke="#ff0000" stroke-width="1.1" fill="none"/>
<path d="M63.0,103.00 L66.1,104.66 L69.2,106.36 L72.3,108.10 L75.3,109.89 L78.4,111.71 L81.5,113.58 L84.6,115.50 L87.7,117.47 L90.8,119.48 L93.8,121.53 L96.9,123.61 L100.0,125.71 L103.1,127.87 L106.2,130.10 L109.3,132.36 L112.3,134.63 L115.4,136.86 L118.5,139.01 L121.6,141.05 L124.7,143.03 L127.8,144.96 L130.9,146.82 L133.9,148.63 L137.0,150.37 L140.1,152.06 L143.2,153.71 L146.3,155.32 L149.4,156.89 L152.4,158.40 L155.5,159.83 L158.6,161.17 L161.7,162.41 L164.8,163.58 L167.9,164.68 L171.0,165.72 L174.0,166.73 L177.1,167.71 L180.2,168.66 L183.3,169.57 L186.4,170.43 L189.5,171.26 L192.5,172.08 L195.6,172.92 L198.7,173.81 L201.8,174.77 L204.9,175.83 L208.0,176.97 L211.0,178.14 L214.1,179.32 L217.2,180.48 L220.3,181.58 L223.4,182.59 L226.5,183.47 L229.6,184.20 L232.6,184.76 L235.7,185.25 L238.8,185.67 L241.9,186.05 L245.0,186.40 L248.1,186.72 L251.1,187.04 L254.2,187.38 L257.3,187.73" stroke="#ff4000" stroke-width="0.8" stroke-opacity="0.8" fill="none"/>
<path d="M63.0,107.50 L66.1,109.14 L69.2,110.82 L72.3,112.53 L75.3,114.28 L78.4,116.07 L81.5,117.90 L84.6,119.79 L87.7,121.71 L90.8,123.68 L93.8,125.68 L96.9,127.71 L100.0,129.76 L103.1,131.86 L106.2,134.04 L109.3,136.25 L112.3,138.44 L115.4,140.59 L118.5,142.65 L121.6,144.59 L124.7,146.43 L127.8,148.17 L130.9,149.84 L133.9,151.45 L137.0,153.01 L140.1,154.53 L143.2,156.03 L146.3,157.51 L149.4,158.94 L152.4,160.32 L155.5,161.63 L158.6,162.85 L161.7,163.97 L164.8,165.01 L167.9,165.99 L171.0,166.92 L174.0,167.82 L177.1,168.69 L180.2,169.56 L183.3,170.38 L186.4,171.16 L189.5,171.91 L192.5,172.66 L195.6,173.44 L198.7,174.28 L201.8,175.20 L204.9,176.23 L208.0,177.34 L211.0,178.48 L214.1,179.64 L217.2,180.77 L220.3,181.85 L223.4,182.84 L226.5,183.70 L229.6,184.41 L232.6,184.96 L235.7,185.43 L238.8,185.84 L241.9,186.21 L245.0,186.54 L248.1,186.86 L251.1,187.17 L254.2,187.51 L257.3,187.85" stroke="#ff4000" stroke-width="0.8" stroke-opacity="0.55" fill="none"/>
<path d="M63.0,112.00 L66.1,113.62 L69.2,115.27 L72.3,116.96 L75.3,118.68 L78.4,120.44 L81.5,122.23 L84.6,124.07 L87.7,125.95 L90.8,127.87 L93.8,129.83 L96.9,131.81 L100.0,133.81 L103.1,135.86 L106.2,137.98 L109.3,140.13 L112.3,142.25 L115.4,144.32 L118.5,146.30 L121.6,148.14 L124.7,149.83 L127.8,151.39 L130.9,152.87 L133.9,154.27 L137.0,155.64 L140.1,157.00 L143.2,158.35 L146.3,159.69 L149.4,160.99 L152.4,162.24 L155.5,163.42 L158.6,164.52 L161.7,165.52 L164.8,166.44 L167.9,167.30 L171.0,168.12 L174.0,168.90 L177.1,169.68 L180.2,170.45 L183.3,171.19 L186.4,171.88 L189.5,172.55 L192.5,173.23 L195.6,173.95 L198.7,174.74 L201.8,175.63 L204.9,176.63 L208.0,177.71 L211.0,178.83 L214.1,179.96 L217.2,181.06 L220.3,182.12 L223.4,183.08 L226.5,183.93 L229.6,184.63 L232.6,185.16 L235.7,185.61 L238.8,186.01 L241.9,186.37 L245.0,186.69 L248.1,187.00 L251.1,187.30 L254.2,187.63 L257.3,187.97" stroke="#ff4000" stroke-width="0.8" stroke-opacity="0.3" fill="none"/>
<path d="M63.0,117.00 L66.1,118.60 L69.2,120.23 L72.3,121.88 L75.3,123.57 L78.4,125.29 L81.5,127.04 L84.6,128.83 L87.7,130.66 L90.8,132.54 L93.8,134.44 L96.9,136.36 L100.0,138.31 L103.1,140.30 L106.2,142.36 L109.3,144.44 L112.3,146.49 L115.4,148.47 L118.5,150.35 L121.6,152.07 L124.7,153.60 L127.8,154.97 L130.9,156.23 L133.9,157.41 L137.0,158.57 L140.1,159.74 L143.2,160.93 L146.3,162.12 L149.4,163.27 L152.4,164.38 L155.5,165.42 L158.6,166.38 L161.7,167.24 L164.8,168.03 L167.9,168.76 L171.0,169.45 L174.0,170.11 L177.1,170.77 L180.2,171.45 L183.3,172.09 L186.4,172.69 L189.5,173.27 L192.5,173.87 L195.6,174.52 L198.7,175.26 L201.8,176.11 L204.9,177.08 L208.0,178.12 L211.0,179.21 L214.1,180.31 L217.2,181.39 L220.3,182.42 L223.4,183.36 L226.5,184.19 L229.6,184.86 L232.6,185.37 L235.7,185.81 L238.8,186.20 L241.9,186.54 L245.0,186.86 L248.1,187.16 L251.1,187.45 L254.2,187.77 L257.3,188.10" stroke="#ff4000" stroke-width="0.8" stroke-opacity="0.18" fill="none"/>
<polygon fill="#ffc400" fill-opacity="1" points="63.0,96.05 66.1,97.46 69.2,98.98 72.3,100.60 75.3,102.33 78.4,104.14 81.5,106.05 84.6,108.14 87.7,110.38 90.8,112.71 93.8,115.10 96.9,117.50 100.0,119.86 103.1,122.23 106.2,124.65 109.3,127.10 112.3,129.54 115.4,131.91 118.5,134.20 121.6,136.36 124.7,138.47 127.8,140.53 130.9,142.52 133.9,144.46 137.0,146.32 140.1,148.11 143.2,149.85 146.3,151.55 149.4,153.19 152.4,154.76 155.5,156.26 158.6,157.66 161.7,158.94 164.8,160.09 167.9,161.14 171.0,162.16 174.0,163.19 177.1,164.28 180.2,165.49 183.3,166.90 186.4,168.41 189.5,169.79 192.5,170.92 195.6,171.94 198.7,172.88 201.8,173.78 204.9,174.64 208.0,175.47 211.0,176.24 214.1,176.96 217.2,177.65 220.3,178.32 223.4,178.96 226.5,179.59 229.6,180.21 232.6,180.84 235.7,181.51 238.8,182.20 241.9,182.86 245.0,183.46 248.1,183.95 251.1,184.31 254.2,184.50 257.3,184.69 260.4,185.03 263.5,185.45 266.6,185.91 269.7,186.31 272.7,186.66 275.8,187.01 278.9,187.36 282.0,187.69 285.1,188.01 285.1,188.20 282.0,188.17 278.9,188.10 275.8,187.98 272.7,187.82 269.7,187.63 266.6,187.36 263.5,187.04 260.4,186.70 257.3,186.38 254.2,186.06 251.1,185.73 248.1,185.38 245.0,184.99 241.9,184.57 238.8,184.10 235.7,183.59 232.6,183.02 229.6,182.40 226.5,181.70 223.4,180.92 220.3,180.10 217.2,179.23 214.1,178.34 211.0,177.44 208.0,176.54 204.9,175.65 201.8,174.78 198.7,173.88 195.6,172.94 192.5,171.92 189.5,170.79 186.4,169.41 183.3,167.90 180.2,166.49 177.1,165.27 174.0,164.14 171.0,163.06 167.9,161.98 164.8,160.87 161.7,159.66 158.6,158.34 155.5,156.90 152.4,155.36 149.4,153.75 146.3,152.08 143.2,150.36 140.1,148.61 137.0,146.83 133.9,144.99 130.9,143.09 127.8,141.13 124.7,139.12 121.6,137.05 118.5,134.91 115.4,132.66 112.3,130.32 109.3,127.92 106.2,125.50 103.1,123.10 100.0,120.76 96.9,118.42 93.8,116.04 90.8,113.66 87.7,111.34 84.6,109.12 81.5,107.04 78.4,105.15 75.3,103.35 72.3,101.65 69.2,100.04 66.1,98.54 63.0,97.15"/>
<polygon fill="#ff9000" fill-opacity="1" points="63.0,84.90 66.1,86.70 69.2,88.57 72.3,90.49 75.3,92.48 78.4,94.53 81.5,96.65 84.6,98.88 87.7,101.21 90.8,103.58 93.8,105.97 96.9,108.33 100.0,110.61 103.1,112.82 106.2,114.99 109.3,117.14 112.3,119.26 115.4,121.39 118.5,123.52 121.6,125.67 124.7,127.85 127.8,130.04 130.9,132.23 133.9,134.38 137.0,136.48 140.1,138.52 143.2,140.49 146.3,142.43 149.4,144.31 152.4,146.16 155.5,147.96 158.6,149.72 161.7,151.44 164.8,153.09 167.9,154.71 171.0,156.29 174.0,157.86 177.1,159.42 180.2,161.01 183.3,162.66 186.4,164.31 189.5,165.81 192.5,167.10 195.6,168.26 198.7,169.35 201.8,170.38 204.9,171.39 208.0,172.39 211.0,173.37 214.1,174.34 217.2,175.28 220.3,176.18 223.4,177.05 226.5,177.88 229.6,178.65 232.6,179.38 235.7,180.08 238.8,180.74 241.9,181.37 245.0,181.95 248.1,182.49 251.1,182.98 254.2,183.44 257.3,183.88 260.4,184.30 263.5,184.70 266.6,185.06 269.7,185.38 269.7,185.43 266.6,185.17 263.5,184.87 260.4,184.54 257.3,184.17 254.2,183.78 251.1,183.36 248.1,182.91 245.0,182.41 241.9,181.86 238.8,181.27 235.7,180.63 232.6,179.97 229.6,179.27 226.5,178.52 223.4,177.71 220.3,176.87 217.2,175.98 214.1,175.07 211.0,174.12 208.0,173.16 204.9,172.18 201.8,171.19 198.7,170.18 195.6,169.12 192.5,167.98 189.5,166.72 186.4,165.24 183.3,163.62 180.2,162.00 177.1,160.47 174.0,158.98 171.0,157.50 167.9,155.99 164.8,154.45 161.7,152.83 158.6,151.12 155.5,149.31 152.4,147.43 149.4,145.48 146.3,143.49 143.2,141.46 140.1,139.42 137.0,137.34 133.9,135.20 130.9,133.02 127.8,130.80 124.7,128.59 121.6,126.38 118.5,124.21 115.4,122.06 112.3,119.91 109.3,117.76 106.2,115.60 103.1,113.42 100.0,111.21 96.9,108.93 93.8,106.57 90.8,104.18 87.7,101.81 84.6,99.48 81.5,97.25 78.4,95.13 75.3,93.08 72.3,91.09 69.2,89.17 66.1,87.30 63.0,85.50"/>
<polygon fill="#ff7000" fill-opacity="1" points="63.0,90.30 66.1,91.95 69.2,93.67 72.3,95.48 75.3,97.35 78.4,99.30 81.5,101.32 84.6,103.48 87.7,105.74 90.8,108.06 93.8,110.42 96.9,112.78 100.0,115.09 103.1,117.38 106.2,119.70 109.3,122.02 112.3,124.33 115.4,126.60 118.5,128.81 121.6,130.96 124.7,133.07 127.8,135.14 130.9,137.18 133.9,139.18 137.0,141.14 137.0,141.20 133.9,139.29 130.9,137.34 127.8,135.35 124.7,133.32 121.6,131.24 118.5,129.12 115.4,126.94 112.3,124.69 109.3,122.41 106.2,120.10 103.1,117.80 100.0,115.53 96.9,113.24 93.8,110.91 90.8,108.57 87.7,106.26 84.6,104.02 81.5,101.88 78.4,99.86 75.3,97.93 72.3,96.06 69.2,94.27 66.1,92.54 63.0,90.90"/>
</g>
<rect x="63.0" y="6.5" width="305.35" height="218.5" fill="none" stroke="#242424" stroke-width="1.3"/>
<g>
<text transform="translate(56.30,12.00) scale(1,1.05)" text-anchor="end">-0.9</text><text transform="translate(56.30,33.85) scale(1,1.05)" text-anchor="end">-0.91</text><text transform="translate(56.30,55.70) scale(1,1.05)" text-anchor="end">-0.92</text><text transform="translate(56.30,77.55) scale(1,1.05)" text-anchor="end">-0.93</text><text transform="translate(56.30,99.40) scale(1,1.05)" text-anchor="end">-0.94</text><text transform="translate(56.30,121.25) scale(1,1.05)" text-anchor="end">-0.95</text><text transform="translate(56.30,143.10) scale(1,1.05)" text-anchor="end">-0.96</text><text transform="translate(56.30,164.95) scale(1,1.05)" text-anchor="end">-0.97</text><text transform="translate(56.30,186.80) scale(1,1.05)" text-anchor="end">-0.98</text><text transform="translate(56.30,208.65) scale(1,1.05)" text-anchor="end">-0.99</text><text transform="translate(56.30,230.50) scale(1,1.05)" text-anchor="end">-1</text><text transform="translate(143.58,243.95) scale(1,1.05)" text-anchor="middle">0.001</text><text transform="translate(256.71,243.95) scale(1,1.05)" text-anchor="middle">0.01</text><text transform="translate(369.85,243.95) scale(1,1.05)" text-anchor="middle">0.1</text><text transform="translate(185.30,269.00) scale(1,1.05)" text-anchor="start">k <tspan dx="0.9">(Mpc</tspan><tspan dy="-6.7" font-size="12.6">-1</tspan><tspan dy="6.7">)</tspan></text><text transform="translate(6.8,115.9) rotate(-90) scale(1,1.05)" text-anchor="middle">w</text>
</g>
</svg>
</body></html>
